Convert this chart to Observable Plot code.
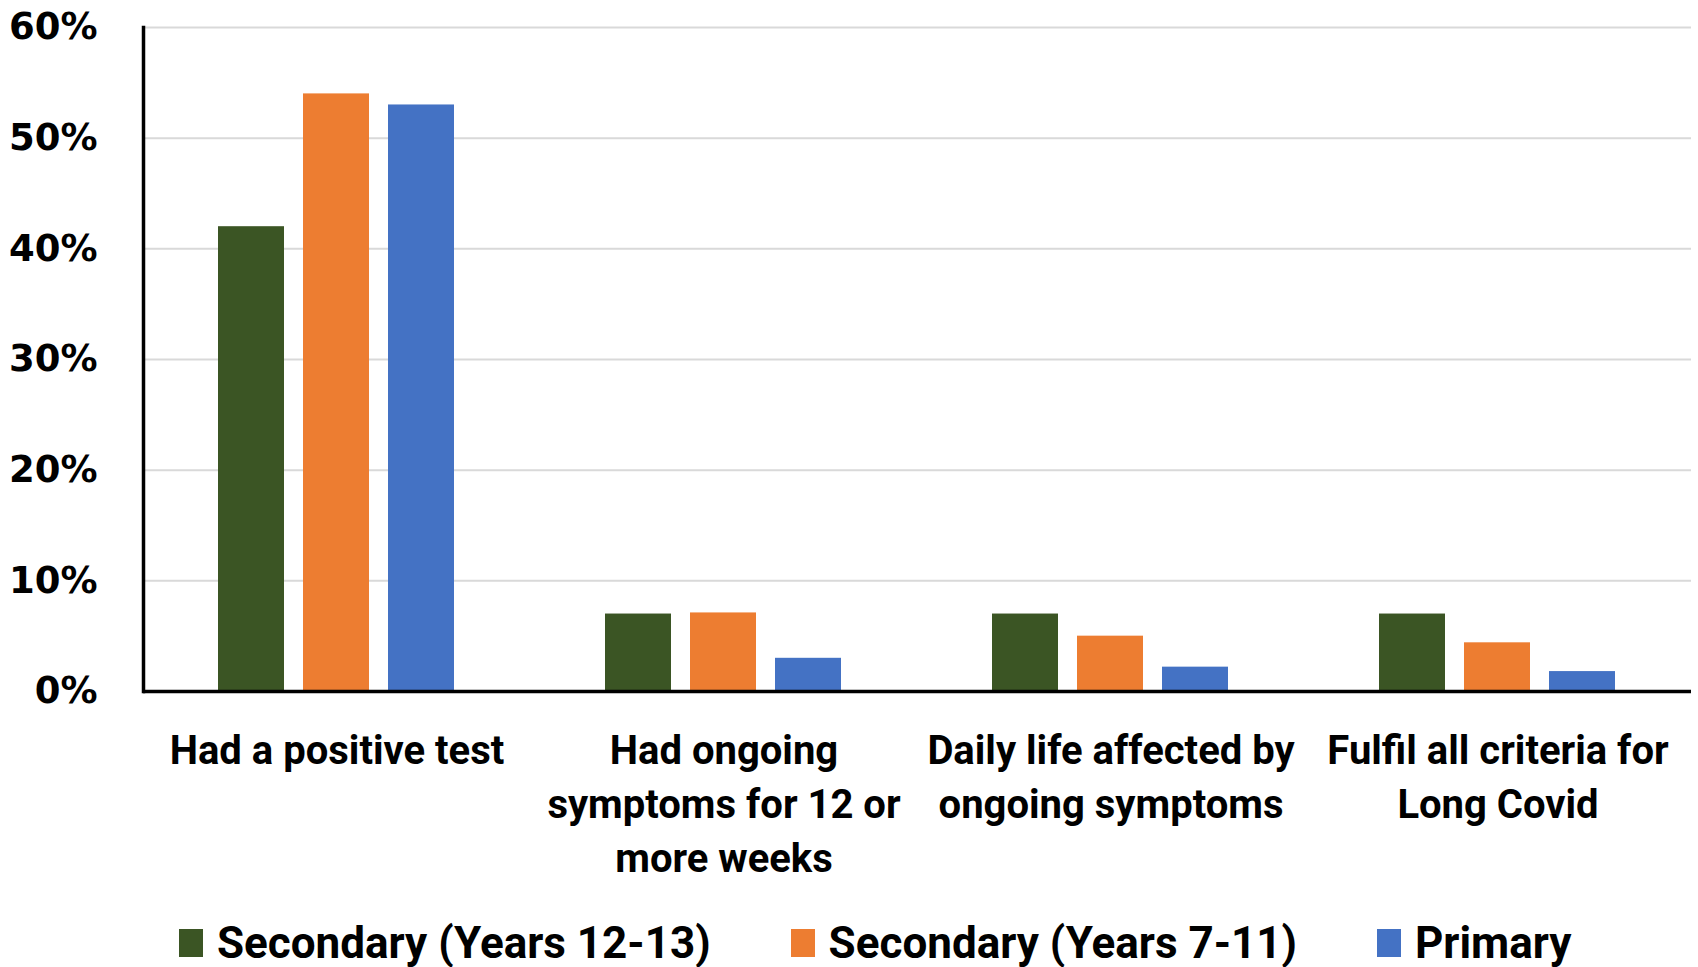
<!DOCTYPE html>
<html>
<head>
<meta charset="utf-8">
<script src="https://cdn.jsdelivr.net/npm/d3@7"></script>
<script src="https://cdn.jsdelivr.net/npm/@observablehq/plot@0.6"></script>
<style>
  html, body { margin: 0; padding: 0; background: #fff; }
  #chart { width: 1698px; height: 967px; overflow: hidden; position: relative; }
  .narrow { font-family: Roboto, "Noto Sans", sans-serif; font-weight: bold; }
  #legend { display: flex; align-items: center; padding-left: 179px; margin-top: 14px; height: 77px; font-size: 44px; color: #000; white-space: nowrap; }
  .item { display: flex; align-items: center; margin-right: 80px; }
  .sw { width: 24px; height: 28px; margin-right: 14px; flex: none; }
</style>
</head>
<body>
<div id="chart"></div>
<script>
const categories = [
  "Had a positive test",
  "Had ongoing\nsymptoms for 12 or\nmore weeks",
  "Daily life affected by\nongoing symptoms",
  "Fulfil all criteria for\nLong Covid"
];
const seriesNames = ["Secondary (Years 12-13)", "Secondary (Years 7-11)", "Primary"];
const seriesColors = ["#3b5524", "#ed7d31", "#4472c4"];
const secondary1213 = [42, 7, 7, 7];
const secondary711 = [54, 7.1, 5, 4.4];
const primary = [53, 3, 2.2, 1.8];
const yTicks = [0, 10, 20, 30, 40, 50, 60];

const seriesValues = [secondary1213, secondary711, primary];
const data = [];
categories.forEach((c, i) => {
  seriesNames.forEach((s, j) => data.push({category: c, series: s, value: seriesValues[j][i]}));
});

const plot = Plot.plot({
  width: 1698,
  height: 890,
  marginLeft: 141,
  marginRight: 6,
  marginTop: 27,
  marginBottom: 199,
  style: {fontFamily: "'DejaVu Sans', sans-serif", background: "#fff", color: "#000"},
  fx: {domain: categories, paddingInner: 0, paddingOuter: 0, label: null},
  x: {domain: seriesNames, paddingInner: 0.22, paddingOuter: 0.865, axis: null},
  y: {domain: [0, 60], label: null},
  color: {domain: seriesNames, range: seriesColors},
  marks: [
    Plot.gridY(yTicks, {stroke: "#d9d9d9", strokeOpacity: 1, strokeWidth: 2}),
    Plot.barY(data, {fx: "category", x: "series", y: "value", fill: "series"}),
    Plot.ruleY([0], {stroke: "#000", strokeWidth: 3.5}),
    Plot.frame({anchor: "left", facetAnchor: "left", stroke: "#000", strokeWidth: 3.5}),
    Plot.axisY(yTicks, {
      tickSize: 0, tickPadding: 46, tickFormat: d => d + "%",
      fontSize: 37, fontWeight: "bold"
    }),
    Plot.axisFx({
      anchor: "bottom",
      tickSize: 0, tickPadding: 34, fontSize: 40, lineHeight: 1.35,
      className: "narrow", fontWeight: "bold", fontFamily: "Roboto", label: null
    })
  ]
});
document.getElementById("chart").appendChild(plot);

const legend = document.createElement("div");
legend.id = "legend";
legend.className = "narrow";
seriesNames.forEach((s, j) => {
  const item = document.createElement("div");
  item.className = "item";
  const sw = document.createElement("div");
  sw.className = "sw";
  sw.style.background = seriesColors[j];
  const t = document.createElement("span");
  t.textContent = s;
  item.appendChild(sw);
  item.appendChild(t);
  legend.appendChild(item);
});
document.getElementById("chart").appendChild(legend);
</script>
</body>
</html>
